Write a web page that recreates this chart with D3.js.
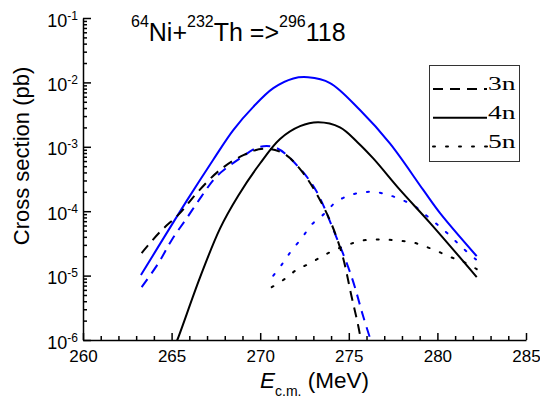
<!DOCTYPE html>
<html><head><meta charset="utf-8">
<script src="https://cdn.jsdelivr.net/npm/d3@7"></script>
<style>body{margin:0;background:#fff} svg{display:block}</style>
</head><body><svg id="c" width="540" height="399"></svg>
<script>
// ---- data (E_c.m. in MeV, cross section in pb) ----
const energyTicks = [260, 265, 270, 275, 280, 285];
const sigmaTicks = [1e-6, 1e-5, 1e-4, 1e-3, 1e-2, 1e-1];
const sigmaExponents = ["-6", "-5", "-4", "-3", "-2", "-1"];
const legendLabels = ["3n", "4n", "5n"];

const black3n = [[263.31,2.24e-5],[264.35,4.79e-5],[265.47,9.33e-5],[266.42,1.91e-4],[267.73,4.37e-4],[269.05,7.41e-4],[270.18,9.33e-4],[271.3,7.94e-4],[272.43,3.89e-4],[273.75,9.33e-5],[274.6,2.24e-5],[275.16,4.68e-6],[275.54,1.62e-6],[275.75,7.9e-7]];
const black4n = [[265.2,8.5e-7],[265.32,1.0e-6],[266.6,9.3e-6],[267.73,5.37e-5],[268.76,1.74e-4],[269.99,5.5e-4],[271.12,1.32e-3],[272.25,2.09e-3],[273.28,2.40e-3],[274.5,2.0e-3],[275.5,1.17e-3],[276.38,6.6e-4],[277.89,2.14e-4],[279.58,6.6e-5],[282.22,9.5e-6]];
const black5n = [[270.65,6.61e-6],[271.4,8.91e-6],[272.06,1.23e-5],[272.81,1.55e-5],[273.56,2.04e-5],[274.22,2.51e-5],[274.97,3.02e-5],[275.67,3.47e-5],[276.42,3.63e-5],[277.1,3.63e-5],[277.83,3.47e-5],[278.55,3.31e-5],[279.24,2.88e-5],[279.99,2.40e-5],[280.71,1.95e-5],[281.43,1.66e-5],[282.22,1.26e-5]];
const blue3n = [[263.31,6.61e-6],[264.25,1.55e-5],[265.0,3.55e-5],[265.85,7.76e-5],[266.69,1.70e-4],[267.54,3.47e-4],[268.86,6.61e-4],[269.99,1.0e-3],[270.93,9.55e-4],[272.15,4.90e-4],[273.15,2.09e-4],[274.13,5.13e-5],[275.16,9.55e-6],[275.82,2.29e-6],[276.35,7.9e-7]];
const blue4n = [[263.27,1.02e-5],[265.94,1.58e-4],[267.35,6.31e-4],[268.48,1.82e-3],[269.61,4.17e-3],[270.74,8.13e-3],[271.87,1.15e-2],[272.7,1.20e-2],[273.94,9.77e-3],[275.63,3.72e-3],[277.33,1.12e-3],[279.2,2.14e-4],[280.15,9.33e-5],[282.22,2.0e-5]];
const blue5n = [[270.74,1.0e-5],[271.27,1.55e-5],[271.77,2.45e-5],[272.34,3.80e-5],[272.9,6.17e-5],[273.66,9.33e-5],[274.22,1.35e-4],[274.97,1.74e-4],[275.73,1.95e-4],[276.42,2.0e-4],[277.14,1.82e-4],[277.79,1.58e-4],[278.64,1.23e-4],[279.3,8.91e-5],[279.96,6.31e-5],[280.71,4.17e-5],[281.46,2.63e-5],[282.18,1.78e-5]];

// ---- layout ----
const svg = d3.select("#c");
const m = {l: 83, r: 526, t: 18, b: 340};
const x = d3.scaleLinear().domain([260, 285]).range([m.l, m.r]);
const y = d3.scaleLog().domain([1e-6, 1e-1]).range([m.b, m.t]);
const sans = "'Liberation Sans', Arial, Helvetica, sans-serif";
const serif = "'Liberation Serif', 'Times New Roman', serif";

const dashStyle = {"3n": "10,7", "4n": null, "5n": "2,11"};

svg.append("defs").append("clipPath").attr("id", "clip")
  .append("rect").attr("x", m.l).attr("y", m.t).attr("width", m.r - m.l).attr("height", m.b - m.t);

const line = d3.line().x(d => x(d[0])).y(d => y(d[1])).curve(d3.curveCatmullRom.alpha(0.5));
const series = [
  {data: blue4n, color: "#0000ff", n: "4n"},
  {data: blue3n, color: "#0000ff", n: "3n"},
  {data: blue5n, color: "#0000ff", n: "5n"},
  {data: black4n, color: "#000", n: "4n"},
  {data: black3n, color: "#000", n: "3n"},
  {data: black5n, color: "#000", n: "5n"}
];
const g = svg.append("g").attr("clip-path", "url(#clip)");
series.forEach(s => {
  g.append("path").attr("d", line(s.data)).attr("fill", "none")
    .attr("stroke", s.color).attr("stroke-width", 2)
    .attr("stroke-dasharray", dashStyle[s.n])
    .attr("stroke-linecap", s.n === "5n" ? "round" : "butt");
});

// ---- axes ----
const xMinor = d3.range(261, 285).filter(v => v % 5 !== 0);
const yMinor = [];
for (let k = -6; k <= -2; k++) for (let j = 2; j <= 9; j++) yMinor.push(j * Math.pow(10, k));

const xa = svg.append("g").attr("transform", `translate(0,${m.b})`)
  .call(d3.axisBottom(x).tickValues(energyTicks).tickSize(-7).tickSizeOuter(0).tickPadding(10).tickFormat(d3.format("d")));
svg.append("g").attr("transform", `translate(0,${m.b})`)
  .call(d3.axisBottom(x).tickValues(xMinor).tickSize(-4).tickSizeOuter(0).tickFormat(""))
  .call(s => s.select(".domain").remove());
xa.selectAll("text").attr("font-family", sans).attr("font-size", 17).attr("fill", "#000");

const ya = svg.append("g").attr("transform", `translate(${m.l},0)`)
  .call(d3.axisLeft(y).tickValues(sigmaTicks).tickSize(-8).tickSizeOuter(0).tickPadding(5).tickFormat(""));
svg.append("g").attr("transform", `translate(${m.l},0)`)
  .call(d3.axisLeft(y).tickValues(yMinor).tickSize(-4).tickSizeOuter(0).tickFormat(""))
  .call(s => s.select(".domain").remove());
ya.selectAll(".tick text").each(function(d) {
  const t = d3.select(this).attr("dy", null).attr("y", 8).attr("font-family", sans).attr("font-size", 18).attr("fill", "#000");
  t.append("tspan").text("10");
  t.append("tspan").attr("dy", -7).attr("font-size", 12).text(sigmaExponents[sigmaTicks.indexOf(d)]);
});
svg.selectAll(".domain, .tick line").attr("stroke", "#000").attr("stroke-width", 1.5);

// ---- axis titles ----
const xt = svg.append("text").attr("x", 260).attr("y", 388).attr("font-family", sans).attr("font-size", 22.5).attr("fill", "#000");
xt.append("tspan").attr("font-style", "italic").text("E");
xt.append("tspan").attr("font-size", 14).attr("dy", 8).text("c.m.");
xt.append("tspan").attr("dy", -8).text(" (MeV)");

svg.append("text").attr("transform", "translate(29,156) rotate(-90)").attr("text-anchor", "middle")
  .attr("font-family", sans).attr("font-size", 22).attr("fill", "#000").text("Cross section (pb)");

// ---- title ----
const tt = svg.append("text").attr("x", 131).attr("y", 41).attr("font-family", sans).attr("font-size", 25).attr("fill", "#000");
[["64", true], ["Ni+", false], ["232", true], ["Th =>", false], ["296", true], ["118", false]].forEach(([s, sup], i, arr) => {
  const prevSup = i > 0 && arr[i - 1][1];
  const dy = sup ? -14 : (prevSup ? 14 : 0);
  tt.append("tspan").attr("dy", dy).attr("font-size", sup ? 16 : 25).text(s);
});

// ---- legend ----
const lg = svg.append("g");
lg.append("rect").attr("x", 429.5).attr("y", 65.5).attr("width", 90).attr("height", 96)
  .attr("fill", "#fff").attr("stroke", "#333").attr("stroke-width", 1);
legendLabels.forEach((lab, i) => {
  const ly = 89 + i * 28.8;
  lg.append("line").attr("x1", 433).attr("x2", 487).attr("y1", ly).attr("y2", ly)
    .attr("stroke", "#000").attr("stroke-width", 2).attr("stroke-dasharray", dashStyle[lab])
    .attr("stroke-linecap", lab === "5n" ? "round" : "butt");
  lg.append("text").attr("transform", `translate(488,${ly + 1}) scale(1.45,1)`)
    .attr("font-family", serif).attr("font-size", 19)
    .attr("fill", "#000").text(lab);
});
</script></body></html>
